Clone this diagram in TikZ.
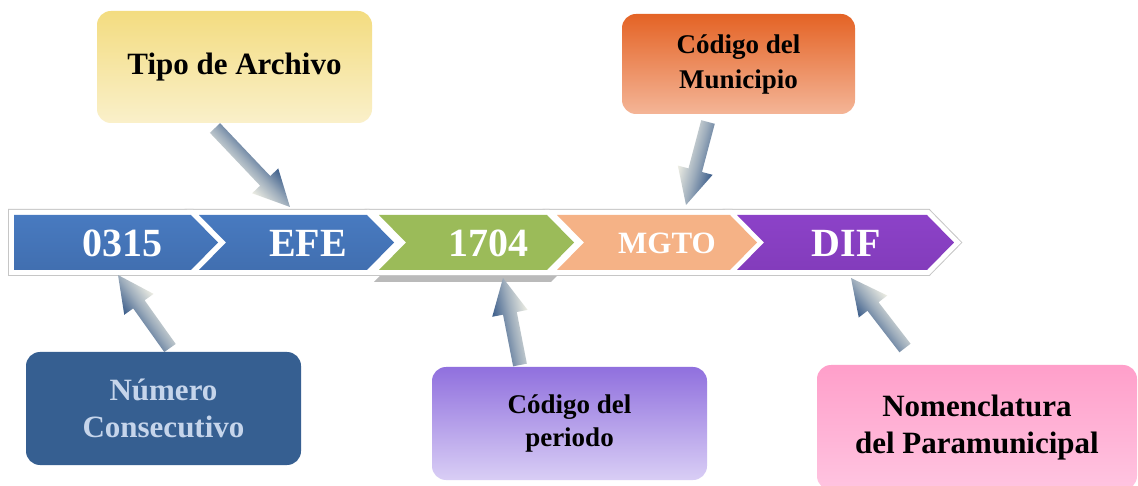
\documentclass[tikz,border=0pt]{standalone}
\usepackage{fontspec}
\setmainfont{Liberation Serif}
\usetikzlibrary{calc}
\definecolor{bandblue}{RGB}{54, 94, 152}
\definecolor{bandbluelt}{RGB}{72, 122, 192}
\definecolor{bandgreen}{RGB}{155, 187, 89}
\definecolor{bandpeach}{RGB}{245, 178, 134}
\definecolor{bandpurple}{RGB}{110, 46, 158}
\definecolor{bandpurplelt}{RGB}{140, 66, 200}
\definecolor{arrowdark}{RGB}{58, 92, 138}
\definecolor{arrowlight}{RGB}{238, 238, 228}
\definecolor{numblue}{RGB}{54, 95, 145}
\definecolor{numtext}{RGB}{198, 213, 235}
\definecolor{tipotop}{RGB}{243, 220, 128}
\definecolor{tipobot}{RGB}{250, 240, 202}

% chevron with notch on the left
\newcommand{\chevpath}[2]{(#1,270) -- (#2,270) -- ({#2+27},242.5) -- (#2,215) -- (#1,215) -- ({#1+27},242.5) -- cycle}
% first chevron, flat on the left
\newcommand{\chevfirst}{(14,270) -- (191,270) -- (218,242.5) -- (191,215) -- (14,215) -- cycle}

% shaded block arrow between two named points
\newcommand{\blockarrow}[2]{%
  \path (#1); \pgfgetlastxy{\bax}{\bay}
  \path (#2); \pgfgetlastxy{\bbx}{\bby}
  \pgfmathsetmacro{\barang}{atan2(\bby-\bay,\bbx-\bax)}
  \pgfmathsetmacro{\barlen}{veclen(\bbx-\bax,\bby-\bay)}
  \begin{scope}[transform canvas={shift={(#1)},rotate=\barang}]
    \shade[top color=arrowdark, bottom color=arrowlight, middle color=arrowdark!45!arrowlight]
      (0,-7) -- (\barlen-36,-7) -- (\barlen-36,-18) -- (\barlen,0)
      -- (\barlen-36,18) -- (\barlen-36,7) -- (0,7) -- cycle;
  \end{scope}
}

\begin{document}
\begin{tikzpicture}[x=1pt, y=1pt,
  callout/.style={rounded corners=14pt, align=center, inner sep=0pt,
                  font=\bfseries},
  chevlabel/.style={text=white, font=\fontsize{40}{40}\selectfont\bfseries},
  bandline/.style={line width=12pt, draw=gray!45, line join=miter},
  bandwhite/.style={line width=10pt, draw=white, line join=miter}
]
  \fill[white] (0,0) rectangle (1138,485);
  \useasboundingbox (0,0) rectangle (1138,485);

  % band of chevrons
  \fill[black!45, opacity=.6] [shift={(2,-12)}] \chevpath{372}{549};
  \path[bandline] \chevfirst;
  \path[bandline] \chevpath{199}{367};
  \path[bandline] \chevpath{379}{547};
  \path[bandline] \chevpath{557}{730};
  \path[bandline] \chevpath{737}{927};
  \path[bandwhite] \chevfirst;
  \path[bandwhite] \chevpath{199}{367};
  \path[bandwhite] \chevpath{379}{547};
  \path[bandwhite] \chevpath{557}{730};
  \path[bandwhite] \chevpath{737}{927};

  \path[top color=bandbluelt, middle color=bandblue, bottom color=bandbluelt!60!bandblue] \chevfirst;
  \path[top color=bandbluelt, middle color=bandblue, bottom color=bandbluelt!60!bandblue] \chevpath{199}{367};
  \fill[bandgreen] \chevpath{379}{547};
  \fill[bandpeach] \chevpath{557}{730};
  \path[top color=bandpurplelt, middle color=bandpurple, bottom color=bandpurplelt!70!bandpurple] \chevpath{737}{927};

  \node[chevlabel] (cons) at (122,242) {0315};
  \node[chevlabel] (tipo) at (308,242) {EFE};
  \node[chevlabel] (peri) at (488,242) {1704};
  \node[chevlabel, font=\fontsize{31}{31}\selectfont\bfseries] (muni) at (667,242) {MGTO};
  \node[chevlabel] (para) at (846,242) {DIF};

  % callouts
  \node[callout, minimum width=275pt, minimum height=112pt,
        top color=tipotop, bottom color=tipobot,
        font=\fontsize{31}{36}\selectfont\bfseries] (tipobox) at (234.5,418) {Tipo de Archivo};
  \node[callout, minimum width=233pt, minimum height=100pt,
        top color={rgb,255:red,228;green,99;blue,37}, bottom color={rgb,255:red,244;green,181;blue,151},
        font=\fontsize{27}{35}\selectfont\bfseries] (munibox) at (738.5,421) {Código del\\Municipio};
  \node[callout, minimum width=275pt, minimum height=113pt, fill=numblue, text=numtext,
        font=\fontsize{31}{37}\selectfont\bfseries] (consbox) at (163.5,76.5) {Número\\Consecutivo};
  \node[callout, minimum width=275pt, minimum height=113pt,
        top color={rgb,255:red,144;green,112;blue,222}, bottom color={rgb,255:red,217;green,206;blue,245},
        font=\fontsize{27}{33}\selectfont\bfseries] (peribox) at (569.5,61.5) {Código del\\periodo};
  \node[callout, minimum width=320pt, minimum height=125pt,
        top color={rgb,255:red,255;green,159;blue,202}, bottom color={rgb,255:red,255;green,196;blue,224},
        font=\fontsize{31}{37}\selectfont\bfseries] (parabox) at (977,57.5) {Nomenclatura\\del Paramunicipal};

  % arrow ends
  \coordinate (tipoA) at (215,357);
  \coordinate (tipoB) at (290,278);
  \coordinate (muniA) at (708,363);
  \coordinate (muniB) at (686,280);
  \coordinate (consA) at (170,137);
  \coordinate (consB) at (118,210);
  \coordinate (periA) at (520,120);
  \coordinate (periB) at (503,207);
  \coordinate (paraA) at (905,137);
  \coordinate (paraB) at (851,207);

  \blockarrow{tipoA}{tipoB}
  \blockarrow{muniA}{muniB}
  \blockarrow{consA}{consB}
  \blockarrow{periA}{periB}
  \blockarrow{paraA}{paraB}
\end{tikzpicture}
\end{document}
